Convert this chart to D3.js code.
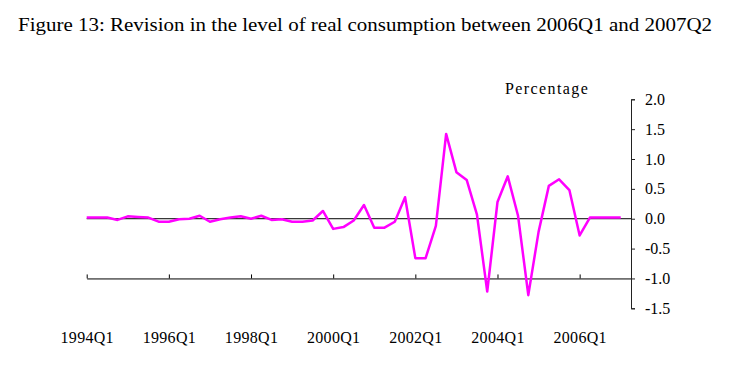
<!DOCTYPE html>
<html>
<head>
<meta charset="utf-8">
<script src="https://cdn.jsdelivr.net/npm/d3@7"></script>
<style>
	body { margin: 0; background: #fff; }
	svg { display: block; }
</style>
</head>
<body>
<div id="chart"></div>
<script>

var quarters = [
	"1994Q1","1994Q2","1994Q3","1994Q4","1995Q1","1995Q2","1995Q3","1995Q4",
	"1996Q1","1996Q2","1996Q3","1996Q4","1997Q1","1997Q2","1997Q3","1997Q4",
	"1998Q1","1998Q2","1998Q3","1998Q4","1999Q1","1999Q2","1999Q3","1999Q4",
	"2000Q1","2000Q2","2000Q3","2000Q4","2001Q1","2001Q2","2001Q3","2001Q4",
	"2002Q1","2002Q2","2002Q3","2002Q4","2003Q1","2003Q2","2003Q3","2003Q4",
	"2004Q1","2004Q2","2004Q3","2004Q4","2005Q1","2005Q2","2005Q3","2005Q4",
	"2006Q1","2006Q2","2006Q3","2006Q4","2007Q1","2007Q2"
];

// revision in percent, one value per quarter up to 2007Q1
var revision = [
	0.02, 0.02, 0.02, -0.02, 0.04, 0.03, 0.02, -0.05,
	-0.05, -0.01, 0.00, 0.05, -0.05, -0.01, 0.02, 0.04,
	0.00, 0.05, -0.02, -0.01, -0.05, -0.05, -0.03, 0.13,
	-0.17, -0.14, -0.03, 0.23, -0.15, -0.15, -0.05, 0.36,
	-0.66, -0.66, -0.12, 1.42, 0.78, 0.65, 0.07, -1.22,
	0.28, 0.71, 0.05, -1.28, -0.22, 0.55, 0.66, 0.48,
	-0.28, 0.02, 0.02, 0.02, 0.02
];

var xTickLabels = ["1994Q1","1996Q1","1998Q1","2000Q1","2002Q1","2004Q1","2006Q1"];

var yTicks = [2.0, 1.5, 1.0, 0.5, 0.0, -0.5, -1.0, -1.5];

var title = "Figure 13: Revision in the level of real consumption between 2006Q1 and 2007Q2";


var CHART = {};

CHART.width = 744;
CHART.height = 377;
CHART.font = "'Liberation Serif', 'Times New Roman', serif";

CHART.svg = d3.select('#chart')
  .append('svg')
	.attr('width', CHART.width)
	.attr('height', CHART.height);

CHART.x = d3.scaleLinear()
	.domain([0, quarters.length - 1])
	.range([86.7, 631]);

CHART.y = d3.scaleLinear()
	.domain([-1.5, 2.0])
	.range([308.3, 99.3]);


//* TITLE
CHART.svg.append('text')
	.attr('x', 18)
	.attr('y', 31)
	.attr('font-family', CHART.font)
	.attr('font-size', 18)
	.attr('textLength', 694)
	.attr('lengthAdjust', 'spacingAndGlyphs')
	.style('fill', '#000')
	.text(title);

//* UNIT LABEL
CHART.svg.append('text')
	.attr('x', 505)
	.attr('y', 94)
	.attr('font-family', CHART.font)
	.attr('font-size', 16)
	.style('letter-spacing', '1.4px')
	.style('fill', '#000')
	.text('Percentage');


//* ZERO LINE
CHART.svg.append('line')
	.attr('x1', CHART.x(0))
	.attr('x2', CHART.x(quarters.length - 1))
	.attr('y1', CHART.y(0))
	.attr('y2', CHART.y(0))
	.style('stroke', '#000')
	.style('stroke-width', 1);


//* X AXIS, sits on -1.0 with the labels pushed down below the plot
var xAxis = d3.axisBottom(CHART.x)
	.tickValues(xTickLabels.map(function(q){ return quarters.indexOf(q); }))
	.tickFormat(function(i){ return quarters[i]; })
	.tickSizeInner(-4)
	.tickSizeOuter(0)
	.tickPadding(53);

var gx = CHART.svg.append('g')
	.attr('transform', 'translate(0,' + CHART.y(-1.0) + ')')
	.call(xAxis);

gx.selectAll('path, line').style('stroke', '#000');
gx.selectAll('text')
	.attr('font-family', CHART.font)
	.attr('font-size', 16)
	.style('letter-spacing', '0.3px')
	.style('fill', '#000');


//* Y AXIS on the right
var yAxis = d3.axisRight(CHART.y)
	.tickValues(yTicks)
	.tickFormat(d3.format('.1f'))
	.tickSizeInner(4)
	.tickSizeOuter(4)
	.tickPadding(10);

var gy = CHART.svg.append('g')
	.attr('transform', 'translate(631,0)')
	.call(yAxis);

gy.selectAll('path, line').style('stroke', '#222');
gy.selectAll('text')
	.attr('font-family', CHART.font)
	.attr('font-size', 16)
	.style('fill', '#000')
	.text(function(d){ return d3.format('.1f')(d).replace('\u2212', '-'); });


//* SERIES
var line = d3.line()
	.x(function(d, i){ return CHART.x(i); })
	.y(function(d){ return CHART.y(d); });

CHART.svg.append('path')
	.datum(revision)
	.attr('d', line)
	.style('fill', 'none')
	.style('stroke', '#ff00ff')
	.style('stroke-width', 2.5)
	.style('stroke-linejoin', 'round');

</script>
</body>
</html>
